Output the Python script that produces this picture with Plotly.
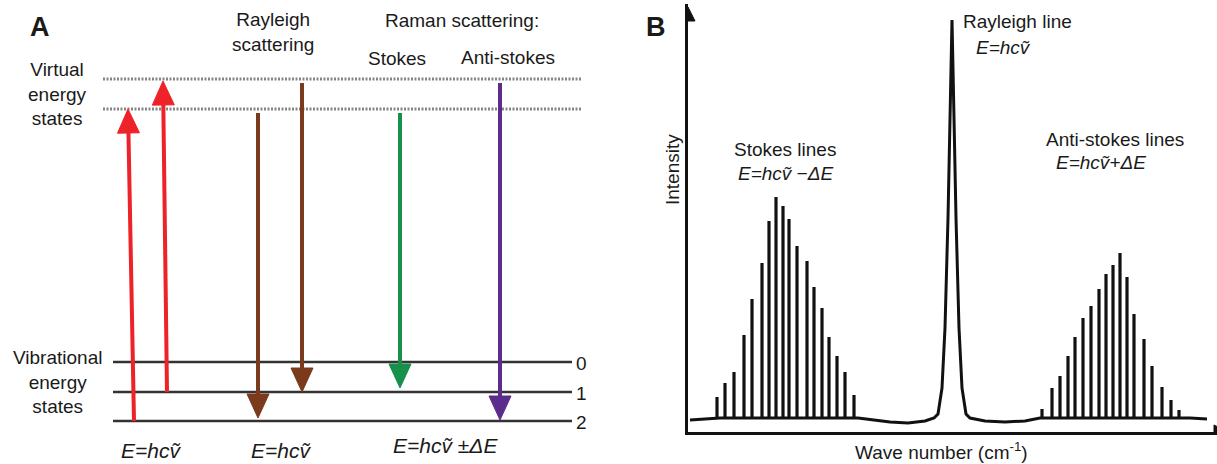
import math
import plotly.graph_objects as go

# ---------------- Panel A data (energy diagram, arbitrary units) ----------------
vib_labels = ["0", "1", "2"]
vib_energy = [102, 72, 43]            # vibrational energy states 0, 1, 2
virtual_energy = [385, 355]           # upper / lower virtual energy states
level_x = [113, 572]                  # horizontal extent of vibrational lines
virtual_x = [103, 582]                # horizontal extent of virtual lines

# transitions: start (x, E) -> end (x, E)
arrow_x0 = [134, 167, 258, 302, 400, 500]
arrow_e0 = [43, 72, 351, 381, 351, 381]
arrow_x1 = [128, 163, 258, 302, 400, 500]
arrow_e1 = [355, 383, 46, 72, 76, 44]
arrow_colors = ["#ee2229", "#ee2229", "#7b3a1c", "#7b3a1c", "#16904a", "#5b2c8c"]

# ---------------- Panel B data (spectrum, arbitrary units) ----------------
stokes_wn = [717, 725, 734, 744, 752, 762, 769, 776, 783, 789, 797, 807, 814, 822, 829, 837, 845, 854]
stokes_int = [21, 35, 46, 83, 119, 155, 197, 221, 212, 199, 172, 157, 131, 110, 81, 62, 46, 23]
anti_wn = [1042, 1052, 1060, 1068, 1075, 1083, 1091, 1099, 1106, 1113, 1120, 1127, 1134, 1144, 1152, 1162, 1171, 1179]
anti_int = [9, 30, 42, 62, 81, 100, 112, 129, 144, 153, 165, 141, 104, 79, 52, 31, 18, 8]
spec_wn = [690, 705, 720, 858, 872, 890, 908, 925, 934, 938, 942, 945, 948, 950, 952,
           954, 956, 959, 962, 966, 970, 985, 1005, 1025, 1040, 1190, 1207]
spec_int = [-2, -1, 0, 0, -2, -4, -5, -3, 0, 4, 30, 90, 200, 300, 398,
            300, 200, 90, 30, 4, 0, -3, -4, -3, 0, 0, -1]

FONT = "Arial, Liberation Sans, Helvetica, sans-serif"
FS = 19
W, H = 1217, 464

fig = go.Figure()


def add_line(xs, ys, color, width, xa="x", ya="y", dash=None):
    fig.add_trace(go.Scatter(x=xs, y=ys, mode="lines", xaxis=xa, yaxis=ya,
                             line=dict(color=color, width=width, dash=dash),
                             hoverinfo="skip", showlegend=False, cliponaxis=False))


def add_arrow(x0, y0, x1, y1, color, head_len=24, head_w=22, shaft=4, xa="x", ya="y"):
    dx, dy = x1 - x0, y1 - y0
    L = math.hypot(dx, dy)
    ux, uy = dx / L, dy / L
    px, py = -uy, ux
    bx, by = x1 - ux * head_len, y1 - uy * head_len
    add_line([x0, bx + ux * 3], [y0, by + uy * 3], color, shaft, xa, ya)
    fig.add_trace(go.Scatter(
        x=[x1, bx + px * head_w / 2, bx - px * head_w / 2, x1],
        y=[y1, by + py * head_w / 2, by - py * head_w / 2, y1],
        mode="lines", fill="toself", fillcolor=color, xaxis=xa, yaxis=ya,
        line=dict(color=color, width=1), hoverinfo="skip", showlegend=False,
        cliponaxis=False))


# ---- Panel A ----
for e in virtual_energy:
    add_line(virtual_x, [e, e], "#858585", 3, dash="2px,1.5px")
for e in vib_energy:
    add_line(level_x, [e, e], "#333333", 2.5)
for x0, e0, x1, e1, c in zip(arrow_x0, arrow_e0, arrow_x1, arrow_e1, arrow_colors):
    add_arrow(x0, e0, x1, e1, c)

# ---- Panel B ----
sx, sy = [], []
for w, i in zip(stokes_wn + anti_wn, stokes_int + anti_int):
    sx += [w, w, None]
    sy += [0, i, None]
add_line(sx, sy, "#111111", 3.2, "x2", "y2")
add_line(spec_wn, spec_int, "#111111", 3, "x2", "y2")
# axis arrowheads
fig.add_trace(go.Scatter(x=[688, 681, 695, 688], y=[411, 397, 397, 411], mode="lines",
                         fill="toself", fillcolor="#111111", line=dict(color="#111111", width=1),
                         xaxis="x2", yaxis="y2", hoverinfo="skip", showlegend=False,
                         cliponaxis=False))
fig.add_trace(go.Scatter(x=[1228, 1214, 1214, 1228], y=[-14, -21, -7, -14], mode="lines",
                         fill="toself", fillcolor="#111111", line=dict(color="#111111", width=1),
                         xaxis="x2", yaxis="y2", hoverinfo="skip", showlegend=False,
                         cliponaxis=False))

ann = []


def text(x, y, s, xa="x", ya="y", size=FS, **kw):
    ann.append(dict(x=x, y=y, xref=xa, yref=ya, text=s, showarrow=False,
                    xanchor="center", yanchor="middle",
                    font=dict(family=FONT, size=size, color="#1a1a1a"), **kw))


def ptext(px, py, s, size=FS, **kw):
    text(px / W, 1 - py / H, s, "paper", "paper", size=size, **kw)


E0 = "<i>E=hcv\u0303</i>"
# Panel A texts
ptext(40, 27, "<b>A</b>", size=27)
text(57, 370, "Virtual<br>energy<br>states")
text(273, 432, "Rayleigh<br>scattering")
text(462, 444, "Raman scattering:")
text(397, 406, "Stokes")
text(508, 407, "Anti-stokes")
text(57, 82, "Vibrational<br>energy<br>states")
for lab, e in zip(vib_labels, vib_energy):
    text(581, e - 1, lab)
text(151, 14, E0, size=21)
text(281, 14, E0, size=21)
text(445, 19, "<i>E=hcv\u0303 \u00b1\u0394E</i>", size=21)

# Panel B texts
ptext(656, 27, "<b>B</b>", size=27)
ptext(672, 170, "Intensity", textangle=-90)
ptext(941, 451, "Wave number (cm<sup>-1</sup>)")
text(1017, 396, "Rayleigh line", "x2", "y2")
text(1003, 370, E0, "x2", "y2")
text(785, 268, "Stokes lines", "x2", "y2")
text(785, 244, "<i>E=hcv\u0303 \u2212\u0394E</i>", "x2", "y2")
text(1115, 278, "Anti-stokes lines", "x2", "y2")
text(1101, 255, "<i>E=hcv\u0303+\u0394E</i>", "x2", "y2")

hidden = dict(visible=False, showgrid=False, zeroline=False, fixedrange=True)
fig.update_layout(
    width=W, height=H,
    margin=dict(l=0, r=0, t=0, b=0),
    paper_bgcolor="white", plot_bgcolor="white",
    showlegend=False,
    xaxis=dict(domain=[0, 640 / W], range=[0, 640], **hidden),
    yaxis=dict(domain=[0, 1], range=[0, 464], **hidden),
    xaxis2=dict(domain=[688 / W, 1], range=[688, 1217], anchor="y2",
                showline=True, linecolor="#111111", linewidth=2.5, showgrid=False,
                zeroline=False, showticklabels=False, ticks="", fixedrange=True),
    yaxis2=dict(domain=[(H - 432) / H, (H - 4) / H], range=[-14, 414], anchor="x2",
                showline=True, linecolor="#111111", linewidth=2.5, showgrid=False,
                zeroline=False, showticklabels=False, ticks="", fixedrange=True),
    annotations=ann,
)

fig.write_html("out.html", config={"displayModeBar": False},
               post_script="document.body.style.margin='0px';")
